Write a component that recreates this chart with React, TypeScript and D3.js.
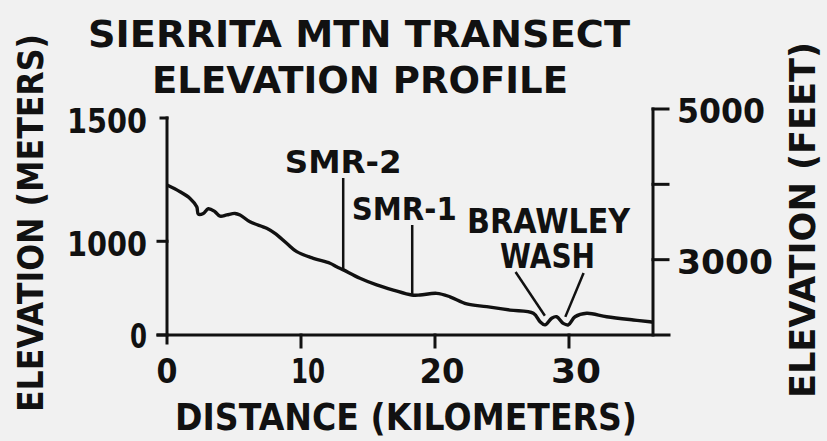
import React from 'react';
import * as d3 from 'd3';

// profile: distance (km) / elevation (m)
const profileKm = [0, 0.97, 1.72, 2.22, 2.34, 2.71, 3.08, 3.58, 3.96, 4.46, 5.07, 5.45, 6.19, 7.44, 8.06, 8.93, 9.68, 10.92, 12.16, 12.66, 13.16, 14.4, 15.65, 16.89, 18.26, 18.88, 20.13, 21.12, 22.37, 23.86, 25.6, 27.34, 27.84, 28.21, 28.71, 29.08, 29.57, 29.95, 30.45, 31.32, 32.81, 34.8, 36.04, 36.27];
const profileM = [1228, 1201, 1174, 1140, 1110, 1113, 1132, 1120, 1102, 1107, 1113, 1107, 1079, 1053, 1032, 992, 958, 931, 911, 897, 884, 850, 823, 802, 782, 782, 789, 775, 746, 735, 721, 708, 674, 661, 688, 694, 667, 661, 694, 708, 694, 681, 674, 673];

const xTicks = [0, 10, 20, 30];
const meterTicks = [620, 1000, 1500];
const meterTickLabels = ['0', '1000', '1500'];
const feetTicks = [3000, 4000, 5000];
const feetTickLabels = ['3000', '', '5000'];

const markerNames = ['SMR-2', 'SMR-1'];
const markerKm = [13.15, 18.3];
const washDipsKm = [28.2, 29.95];

const W = 827;
const H = 441;
const ink = '#111';
const font = '"DejaVu Sans", sans-serif';

const App = () => {
  const x = d3.scaleLinear().domain([0, 36.27]).range([167, 653]);
  const yM = d3.scaleLinear().domain([620, 1500]).range([335, 118]);
  const yF = d3.scaleLinear().domain([2000, 5000]).range([335, 109]);

  const pts: [number, number][] = profileKm.map((k, i) => [k, profileM[i]]);
  const line = d3.line<[number, number]>()
    .x(d => x(d[0]))
    .y(d => yM(d[1]))
    .curve(d3.curveCatmullRom.alpha(0.5));

  const elevAt = (km: number) => {
    const i = d3.bisectLeft(profileKm, km);
    const i0 = Math.max(0, i - 1);
    const t = (km - profileKm[i0]) / ((profileKm[i] - profileKm[i0]) || 1);
    return profileM[i0] + t * (profileM[i] - profileM[i0]);
  };

  const x0 = x(0);
  const x1 = x(36.27);
  const base = yM(620);

  const txt = { fontFamily: font, fontWeight: 'bold' as const, fill: ink };

  // label placement for the two sample sites
  const markerLabelBase = [173, 220];
  const markerLabelShift = [0, -8];
  const markerLabelLen = [117, 105];

  const washMid = (x(washDipsKm[0]) + x(washDipsKm[1])) / 2;

  return (
    <svg width={W} height={H} style={{ position: 'absolute', left: 0, top: 0, background: '#f1f1f1' }}>
      <rect width={W} height={H} fill="#f1f1f1" />

      {/* title */}
      <text x={88} y={47} fontSize={37} textLength={542} lengthAdjust="spacingAndGlyphs" {...txt}>SIERRITA MTN TRANSECT</text>
      <text x={152} y={93} fontSize={38} textLength={416} lengthAdjust="spacingAndGlyphs" {...txt}>ELEVATION PROFILE</text>

      {/* axis titles */}
      <text transform="translate(43,412) rotate(-90)" fontSize={35} textLength={378} lengthAdjust="spacingAndGlyphs" {...txt}>ELEVATION (METERS)</text>
      <text transform="translate(815,398) rotate(-90)" fontSize={35} textLength={356} lengthAdjust="spacingAndGlyphs" {...txt}>ELEVATION  (FEET)</text>
      <text x={175} y={430} fontSize={38} textLength={462} lengthAdjust="spacingAndGlyphs" {...txt}>DISTANCE (KILOMETERS)</text>

      <g stroke={ink} strokeWidth={3} fill="none" strokeLinecap="square">
        {/* left axis */}
        <line x1={x0} x2={x0} y1={yM(1500)} y2={base + 8} />
        {meterTicks.map((t, i) => (
          <line key={t} x1={i === meterTicks.length - 1 ? x0 - 6 : x0 - 9} x2={x0} y1={yM(t)} y2={yM(t)} />
        ))}
        {/* baseline */}
        <line x1={x0 - 9} x2={x1 + 16} y1={base} y2={base} />
        {xTicks.filter(t => t > 0).map(t => (
          <line key={t} x1={x(t)} x2={x(t)} y1={base} y2={base + 12} />
        ))}
        {/* right axis */}
        <line x1={x1} x2={x1} y1={yF(5000)} y2={base} />
        {feetTicks.map(t => (
          <line key={t} x1={x1} x2={x1 + 15} y1={yF(t)} y2={yF(t)} />
        ))}
      </g>

      {meterTicks.map((t, i) => (
        <text key={t} x={147} y={yM(t) + (i === 0 ? 13 : 15)} textAnchor="end" fontSize={33}
          textLength={i === 0 ? 17 : 80} lengthAdjust="spacingAndGlyphs" {...txt}>{meterTickLabels[i]}</text>
      ))}
      {feetTicks.map((t, i) => feetTickLabels[i] ? (
        <text key={t} x={677} y={yF(t) + 14} fontSize={34} textLength={i === 0 ? 96 : 88}
          lengthAdjust="spacingAndGlyphs" {...txt}>{feetTickLabels[i]}</text>
      ) : null)}
      {xTicks.map((t, i) => (
        <text key={t} x={x(t) + (i === 0 ? 0 : 7)} y={383} textAnchor="middle" fontSize={34}
          textLength={[21, 34, 45, 50][i]} lengthAdjust="spacingAndGlyphs" {...txt}>{String(t)}</text>
      ))}

      {/* profile */}
      <path d={line(pts) || ''} fill="none" stroke={ink} strokeWidth={3.4} strokeLinejoin="round" />

      {/* sample site markers */}
      {markerKm.map((k, i) => (
        <g key={markerNames[i]}>
          <line x1={x(k)} x2={x(k)} y1={markerLabelBase[i] + 5} y2={yM(elevAt(k))} stroke={ink} strokeWidth={2.5} />
          <text x={x(k) + markerLabelShift[i]} y={markerLabelBase[i]} textAnchor="middle" fontSize={32}
            textLength={markerLabelLen[i]} lengthAdjust="spacingAndGlyphs" {...txt}>{markerNames[i]}</text>
        </g>
      ))}

      {/* Brawley Wash */}
      <text x={washMid - 8} y={233} textAnchor="middle" fontSize={33} textLength={163} lengthAdjust="spacingAndGlyphs" {...txt}>BRAWLEY</text>
      <text x={washMid - 9} y={268} textAnchor="middle" fontSize={33} textLength={95} lengthAdjust="spacingAndGlyphs" {...txt}>WASH</text>
      <line x1={washMid - 41} y1={272} x2={x(washDipsKm[0])} y2={yM(elevAt(washDipsKm[0])) - 9} stroke={ink} strokeWidth={2.5} />
      <line x1={washMid + 27} y1={273} x2={x(washDipsKm[1]) - 3} y2={yM(elevAt(washDipsKm[1])) - 8} stroke={ink} strokeWidth={2.5} />
    </svg>
  );
};

export default App;
